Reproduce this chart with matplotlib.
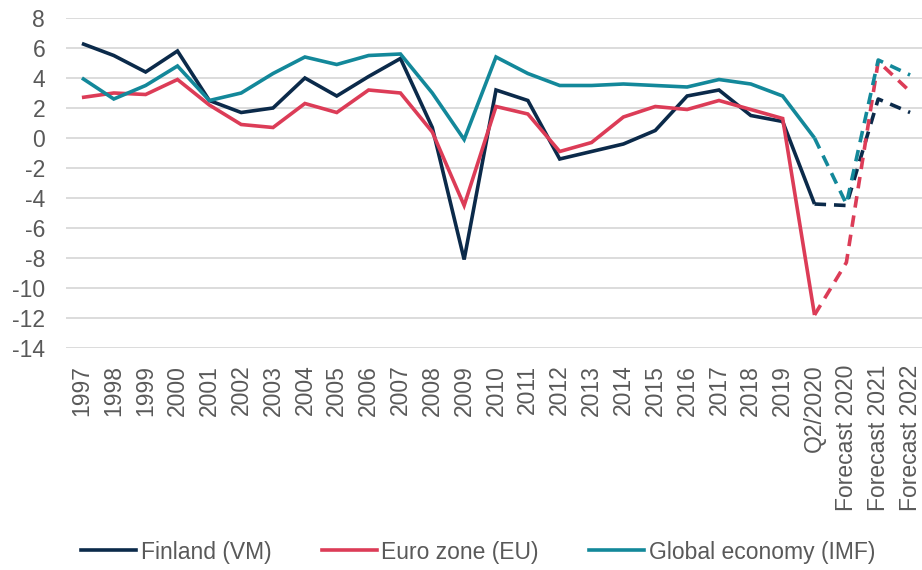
import numpy as np
import matplotlib
matplotlib.use("Agg")
import matplotlib.pyplot as plt
from matplotlib.lines import Line2D

categories = [str(y) for y in range(1997, 2020)] + ["Q2/2020", "Forecast 2020", "Forecast 2021", "Forecast 2022"]
finland = [6.3, 5.5, 4.4, 5.8, 2.5, 1.7, 2.0, 4.0, 2.8, 4.1, 5.3, 0.7, -8.1, 3.2, 2.5, -1.4, -0.9, -0.4, 0.5, 2.8, 3.2, 1.5, 1.1,
           -4.4, -4.5, 2.6, 1.7]
euro = [2.7, 3.0, 2.9, 3.9, 2.2, 0.9, 0.7, 2.3, 1.7, 3.2, 3.0, 0.4, -4.5, 2.1, 1.6, -0.9, -0.3, 1.4, 2.1, 1.9, 2.5, 1.9, 1.3,
        -11.8, -8.3, 5.1, 3.1]
world = [4.0, 2.6, 3.5, 4.8, 2.5, 3.0, 4.3, 5.4, 4.9, 5.5, 5.6, 3.0, -0.1, 5.4, 4.3, 3.5, 3.5, 3.6, 3.5, 3.4, 3.9, 3.6, 2.8,
         0.0, -4.4, 5.2, 4.2]
series_names = ["Finland (VM)", "Euro zone (EU)", "Global economy (IMF)"]
colors = ["#0b2a4a", "#dc3c57", "#13889a"]
y_ticks = list(range(-14, 9, 2))
last_actual = 23  # index of Q2/2020

plt.rcParams['font.family'] = ['Liberation Sans', 'DejaVu Sans']

fig = plt.figure(figsize=(9.22, 5.70), dpi=100)
W, H = 922, 570
left, right, top, bottom = 66, 926, 18, 348
ax = fig.add_axes([left / W, 1 - bottom / H, (right - left) / W, (bottom - top) / H])

x = np.arange(len(categories))
lw = 2.6
for vals, c, z in zip([finland, euro, world], colors, [3, 4, 5]):
    v = np.array(vals)
    ax.plot(x[:last_actual + 1], v[:last_actual + 1], color=c, lw=lw, zorder=z,
            solid_joinstyle='miter', solid_capstyle='butt')
    ax.plot(x[last_actual:], v[last_actual:], color=c, lw=lw, zorder=z,
            linestyle=(0, (3.2, 2.2)), dash_capstyle='butt')

ax.set_xlim(-0.5, len(categories) - 0.5)
ax.set_ylim(-14, 8)
ax.set_yticks(y_ticks)
ax.set_yticklabels([str(t) for t in y_ticks])
ax.set_xticks(x)
ax.set_xticklabels(categories, rotation=90)
ax.grid(axis='y', color='#d9d9d9', lw=1.3)
ax.set_axisbelow(True)
for s in ax.spines.values():
    s.set_visible(False)
ax.tick_params(axis='both', length=0, labelsize=16.5, labelcolor='#595959')
ax.tick_params(axis='y', pad=15)
ax.tick_params(axis='x', pad=12)

handles = [Line2D([0], [0], color=c, lw=lw) for c in colors]
fig.legend(handles, series_names, loc='center', bbox_to_anchor=(478 / W, 1 - 552 / H), ncol=3,
           frameon=False, fontsize=16.5, labelcolor='#595959', handlelength=2.4,
           handletextpad=0.2, columnspacing=2.2)

fig.savefig("out.png", dpi=100)
